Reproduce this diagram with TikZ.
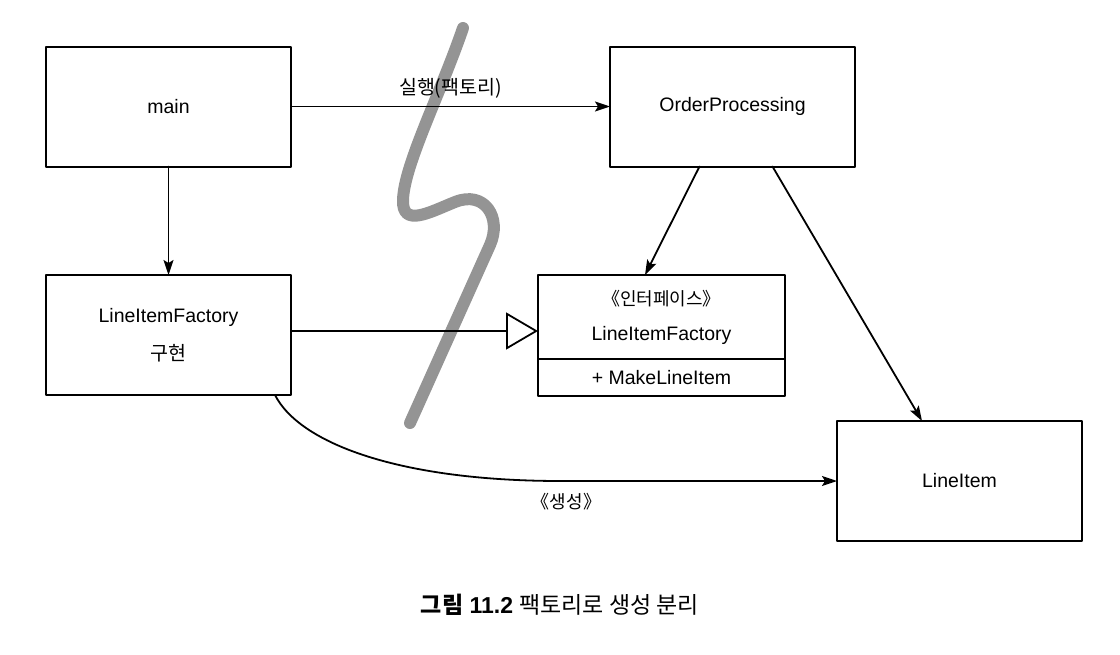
\documentclass[tikz,border=0pt]{standalone}
\usepackage{fontspec}
\setmainfont{Liberation Sans}
\newfontfamily\kr{Noto Sans CJK KR}
\usetikzlibrary{arrows.meta,positioning}

\begin{document}
\begin{tikzpicture}[x=1pt, y=-1pt, line cap=round, line join=round,
    box/.style={draw, line width=2pt, minimum width=245pt, minimum height=120pt,
      inner sep=0pt, outer sep=0pt, align=center, font=\fontsize{19.5}{38}\selectfont},
    uses/.style={line width=1.8pt, -{Stealth[length=15pt, width=10pt, inset=3pt]}},
    realizes/.style={line width=1.8pt, -{Triangle[open, length=32pt, width=37pt, line width=1.8pt]}},
    cut/.style={line width=12pt, black!42}]

      \useasboundingbox (0,0) rectangle (1120,654);

      % --- LINIA DE SEPARARE (GRI) ---
      \draw[cut] (463,28) .. controls (440,95) and (404,165) .. (403,200)
        .. controls (402,228) and (430,212) .. (455,202)
        .. controls (485,190) and (502,218) .. (490,245) -- (410,423);

      % --- CLASE ---
      \node[box] (main) at (168.5,106.5) {main};
      \node[box, below=108.5pt of main] (impl) {LineItemFactory\\{\kr 구현}};
      \node[box, right=319pt of main] (op) {OrderProcessing};
      \node[box] (item) at (959.5,481) {LineItem};

      % --- INTERFATA (DOUA COMPARTIMENTE) ---
      \node[box, minimum width=247pt, minimum height=84pt,
        font=\fontsize{19.5}{35}\selectfont] (iface) at (661.5,317)
        {{\kr\fontsize{18}{35}\selectfont 《인터페이스》}\\LineItemFactory};
      \node[box, minimum width=247pt, minimum height=37pt, below=0pt of iface] (ifaceop)
        {+ MakeLineItem};

      % --- RELATII ---
      \draw[uses] (main) -- (impl);
      \draw[uses] (main) -- node[above=4pt, font=\kr\fontsize{19.5}{22}\selectfont] (runlbl) {실행(팩토리)} (op);
      \draw[uses] ([xshift=-33pt]op.south) -- ([xshift=-16.5pt]iface.north);
      \draw[uses] ([xshift=40pt]op.south) -- ([xshift=-37.5pt]item.north);
      \draw[realizes] ([yshift=4pt]impl.east) -- ([yshift=4pt]impl.east -| iface.west);

      % --- CREARE (CURBA) ---
      \draw[uses] ([xshift=-16pt]impl.south east) .. controls +(25,49) and +(-160,0) ..
        ([xshift=-276pt]item.west)
        -- node[pos=0.02, below=8pt, font=\kr\fontsize{18}{22}\selectfont] (makelbl) {《생성》} (item.west);

      % --- TITLU ---
      \node[font=\fontsize{23}{28}\selectfont] (caption) at (560,605)
        {{\kr\bfseries 그림} \textbf{11.2} {\kr 팩토리로 생성 분리}};

    \end{tikzpicture}
\end{document}
